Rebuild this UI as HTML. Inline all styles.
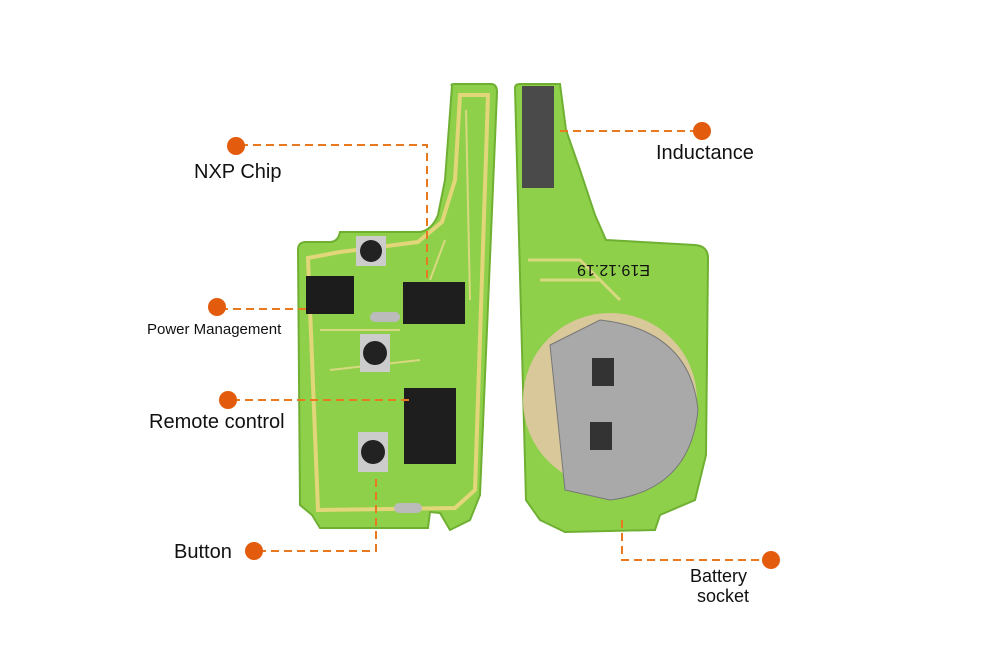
<!DOCTYPE html>
<html><head><meta charset="utf-8"><style>
html,body{margin:0;padding:0;background:#fff}
svg{display:block}
text{font-family:"Liberation Sans",sans-serif;fill:#111}
</style></head><body>
<svg width="1000" height="667" viewBox="0 0 1000 667" xmlns="http://www.w3.org/2000/svg">
<!-- left board -->
<path d="M452,86 Q450,84 455,84 L492,84 Q497,85 497,92 L480,495 L470,520 L450,530 L440,513 L430,512 L428,528 L320,528 L312,515 L300,505 L298,250 Q298,242 306,242 L330,242 Q338,242 340,232 L420,232 Q432,230 438,215 L445,180 Z" fill="#8fd04a" stroke="#6fb033" stroke-width="2"/>
<path d="M460,95 L488,95 L475,490 L455,508 L318,510 L308,258 L340,252 L418,242 L442,222 L455,180 Z" fill="none" stroke="#e2d67a" stroke-width="4"/>
<path d="M466,110 L470,300 M445,240 L430,280 M320,330 L400,330 M330,370 L420,360" stroke="#d8d880" stroke-width="2" fill="none"/>
<!-- chips left -->
<rect x="306" y="276" width="48" height="38" fill="#1c1c1c"/>
<rect x="403" y="282" width="62" height="42" fill="#1e1e1e"/>
<rect x="404" y="388" width="52" height="76" fill="#1e1e1e"/>
<rect x="356" y="236" width="30" height="30" fill="#ccc"/><circle cx="371" cy="251" r="11" fill="#222"/>
<rect x="360" y="334" width="30" height="38" fill="#ccc"/><circle cx="375" cy="353" r="12" fill="#222"/>
<rect x="358" y="432" width="30" height="40" fill="#ccc"/><circle cx="373" cy="452" r="12" fill="#222"/>
<rect x="370" y="312" width="30" height="10" rx="5" fill="#bbb"/>
<rect x="394" y="503" width="28" height="10" rx="5" fill="#bbb"/>
<!-- right board -->
<path d="M515,88 Q515,84 520,84 L560,84 L566,130 L580,170 L595,215 L606,240 L695,245 Q708,246 708,258 L706,455 L695,500 L660,515 L655,530 L565,532 L540,520 L526,500 Q520,300 515,88 Z" fill="#8fd04a" stroke="#6fb033" stroke-width="2"/>
<rect x="522" y="86" width="32" height="102" fill="#4a4a4a"/>
<path d="M528,260 L580,260 L620,300 M540,280 L600,280" stroke="#d8d880" stroke-width="3" fill="none"/>
<circle cx="610" cy="400" r="87" fill="#d8c89a"/>
<path d="M550,345 L600,320 Q690,330 698,410 Q690,490 610,500 L565,490 Z" fill="#a9a9a9" stroke="#777"/>
<rect x="592" y="358" width="22" height="28" fill="#333"/>
<rect x="590" y="422" width="22" height="28" fill="#333"/>
<text x="600" y="275" font-size="16" transform="rotate(180 625 270)" fill="#222">E19.12.19</text>
<!-- dashed connectors -->
<g stroke="#e8791f" stroke-width="2" stroke-dasharray="8,5" fill="none">
<path d="M240,145 L427,145 L427,282"/>
<path d="M220,309 L310,309"/>
<path d="M232,400 L410,400"/>
<path d="M258,551 L376,551 L376,478"/>
<path d="M560,131 L700,131"/>
<path d="M622,520 L622,560 L770,560"/>
</g>
<g fill="#e35b0c">
<circle cx="236" cy="146" r="9"/><circle cx="217" cy="307" r="9"/><circle cx="228" cy="400" r="9"/>
<circle cx="254" cy="551" r="9"/><circle cx="702" cy="131" r="9"/><circle cx="771" cy="560" r="9"/>
</g>
<text x="194" y="178" font-size="20">NXP Chip</text>
<text x="147" y="334" font-size="15">Power Management</text>
<text x="149" y="428" font-size="20">Remote control</text>
<text x="174" y="558" font-size="20">Button</text>
<text x="656" y="159" font-size="20">Inductance</text>
<text x="690" y="582" font-size="18">Battery</text>
<text x="697" y="602" font-size="18">socket</text>
</svg>
</body></html>
